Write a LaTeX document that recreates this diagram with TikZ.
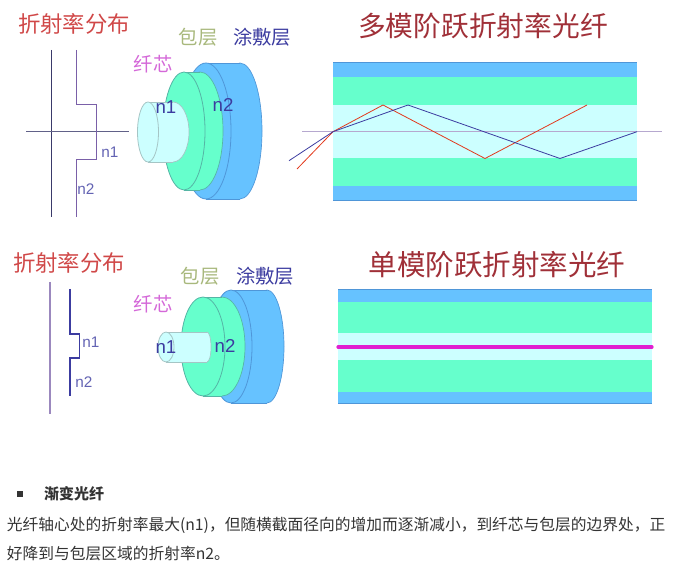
\documentclass[tikz,border=0pt]{standalone}
\usepackage{fontspec}
\setmainfont{Noto Sans CJK SC}
\newfontfamily\latfont{Liberation Sans}
\definecolor{coat}{HTML}{66C2FF}
\definecolor{coatedge}{HTML}{4F96D8}
\definecolor{clad}{HTML}{66FFCC}
\definecolor{cladedge}{HTML}{55B5A5}
\definecolor{core}{HTML}{CCFFFF}
\definecolor{coreedge}{HTML}{A5C5C5}
\definecolor{titlered}{HTML}{D04848}
\definecolor{darkred}{HTML}{A03038}
\definecolor{oliveleaf}{HTML}{A8B87C}
\definecolor{inkblue}{HTML}{3C3CA0}
\definecolor{orchidtxt}{HTML}{D468D8}
\definecolor{axisdark}{HTML}{3A3A6A}
\definecolor{profile}{HTML}{7A60A8}
\definecolor{bodytext}{HTML}{333333}
\definecolor{brightmag}{HTML}{E020D0}
\tikzset{
  lbl/.style={inner sep=0pt,outer sep=0pt,anchor=center},
  redtitle/.style={lbl,text=titlered,font=\fontsize{16.8}{18}\selectfont},
  bigtitle/.style={lbl,text=darkred,font=\fontsize{20.8}{24}\selectfont},
  leaflbl/.style={lbl,text=oliveleaf,font=\fontsize{14.5}{16}\selectfont},
  coatlbl/.style={lbl,text=inkblue,font=\fontsize{14.5}{16}\selectfont},
  corelbl/.style={lbl,text=orchidtxt,font=\fontsize{14.5}{16}\selectfont},
  nbig/.style={lbl,text=inkblue,font=\latfont\fontsize{14}{16}\selectfont},
  nsmall/.style={lbl,text=inkblue!80!white,font=\latfont\fontsize{11.5}{13}\selectfont},
  para/.style={inner sep=0pt,outer sep=0pt,anchor=west,text=bodytext,font=\fontsize{11.8}{14}\selectfont},
  raya/.style={draw=red!55!brown,line width=0.6pt},
  rayb/.style={draw=inkblue,line width=0.6pt},
  axisline/.style={draw=axisdark,line width=0.6pt},
  profline/.style={draw=profile,line width=0.7pt},
}
% front x, back x, centre y, front rx, back rx, ry, fill, edge
\newcommand{\cylpart}[8]{%
  \fill[#7,draw=#8,line width=0.5pt] (#2,#3) ellipse [x radius=#5,y radius=#6];
  \fill[#7] (#1,#3-#6) rectangle (#2,#3+#6);
  \draw[#8,line width=0.5pt] (#1,#3-#6) -- (#2,#3-#6) (#1,#3+#6) -- (#2,#3+#6);
  \fill[#7,draw=#8,line width=0.6pt] (#1,#3) ellipse [x radius=#4,y radius=#6];
}
\begin{document}
\begin{tikzpicture}[x=0.75pt,y=-0.75pt]
\useasboundingbox (0,0) rectangle (684,580);
% --- upper row, profile
\node[redtitle] (t1) at (74,24) {折射率分布};
\draw[axisline] (51,50) -- (51,217);
\draw[axisline,draw=axisdark!80!white] (26,131) -- (129,131);
\draw[profline] (76.5,50) -- (76.5,104) -- (96,104) -- (96,159) -- (76.5,159) -- (76.5,217);
\node[nsmall] (an1) at (110,152) {n1};
\node[nsmall] (an2) at (86,189) {n2};
% --- upper row, cylinders
\cylpart{206}{240}{131}{25}{22}{68}{coat}{coatedge}
\cylpart{184}{200}{131}{21}{23}{59}{clad}{cladedge}
\cylpart{148}{173}{132}{10.5}{16}{30}{core}{coreedge}
\node[nbig] (bn1) at (166,107) {n1};
\node[nbig] (bn2) at (223,105) {n2};
\node[corelbl] (c1) at (153,64) {纤芯};
\node[leaflbl] (d1) at (198,37) {包层};
\node[coatlbl] (e1) at (262,37) {涂敷层};
% --- upper row, fibre
\node[bigtitle] (t2) at (483,26) {多模阶跃折射率光纤};
\fill[coat] (333,62) rectangle (637,200);
\fill[clad] (333,77) rectangle (637,186);
\fill[core] (333,105) rectangle (637,158.5);
\draw[coatedge,line width=0.5pt] (333,62) -- (637,62) (333,200) -- (637,200);
\draw[draw=profile!55!white,line width=0.7pt] (302,131.7) -- (662,131.7);
\coordinate (ain) at (297,169);
\coordinate (bin) at (289,160.7);
\coordinate (hit) at (333,131.7);
\draw[raya] (ain) -- (hit) -- (383,105) -- (485,158.5) -- (587,105);
\draw[rayb] (bin) -- (hit) -- (408,105) -- (560,158.5) -- (637,131.7);
% --- lower row, profile
\node[redtitle] (t3) at (69,263) {折射率分布};
\draw[draw=profile!75!white,line width=1.2pt] (50,282) -- (50,414);
\draw[draw=inkblue,line width=1.1pt] (70,289) -- (70,334) -- (79.5,334) -- (79.5,358) -- (70,358) -- (70,396);
\node[nsmall] (fn1) at (91,342) {n1};
\node[nsmall] (fn2) at (84,382) {n2};
% --- lower row, cylinders
\cylpart{231}{267}{346.5}{21}{17}{56.5}{coat}{coatedge}
\cylpart{203}{222}{346.5}{22}{23}{49.5}{clad}{cladedge}
\cylpart{166}{207}{347}{8}{4}{15}{core}{coreedge}
\node[nbig] (gn1) at (166,347) {n1};
\node[nbig] (gn2) at (225,346) {n2};
\node[corelbl] (c2) at (153,304) {纤芯};
\node[leaflbl] (d2) at (200,276) {包层};
\node[coatlbl] (e2) at (265,276) {涂敷层};
% --- lower row, fibre
\node[bigtitle,font=\fontsize{21.4}{24}\selectfont] (t4) at (497,265) {单模阶跃折射率光纤};
\fill[coat] (338,289) rectangle (652,403);
\fill[clad] (338,302) rectangle (652,392);
\fill[core] (338,333) rectangle (652,360);
\draw[coatedge,line width=0.5pt] (338,289) -- (652,289) (338,403) -- (652,403);
\draw[draw=brightmag,line width=2.4pt,line cap=round] (338,347) -- (652,347);
% --- text
\fill[bodytext] (17,491) rectangle (23,497);
\node[para,font=\fontsize{11.25}{14}\bfseries\selectfont] (h) at (44,494) {渐变光纤};
\node[para] (p1) at (7,525) {光纤轴心处的折射率最大(n1)，但随横截面径向的增加而逐渐减小，到纤芯与包层的边界处，正};
\node[para] (p2) at (7,554) {好降到与包层区域的折射率n2。};
\end{tikzpicture}
\end{document}
